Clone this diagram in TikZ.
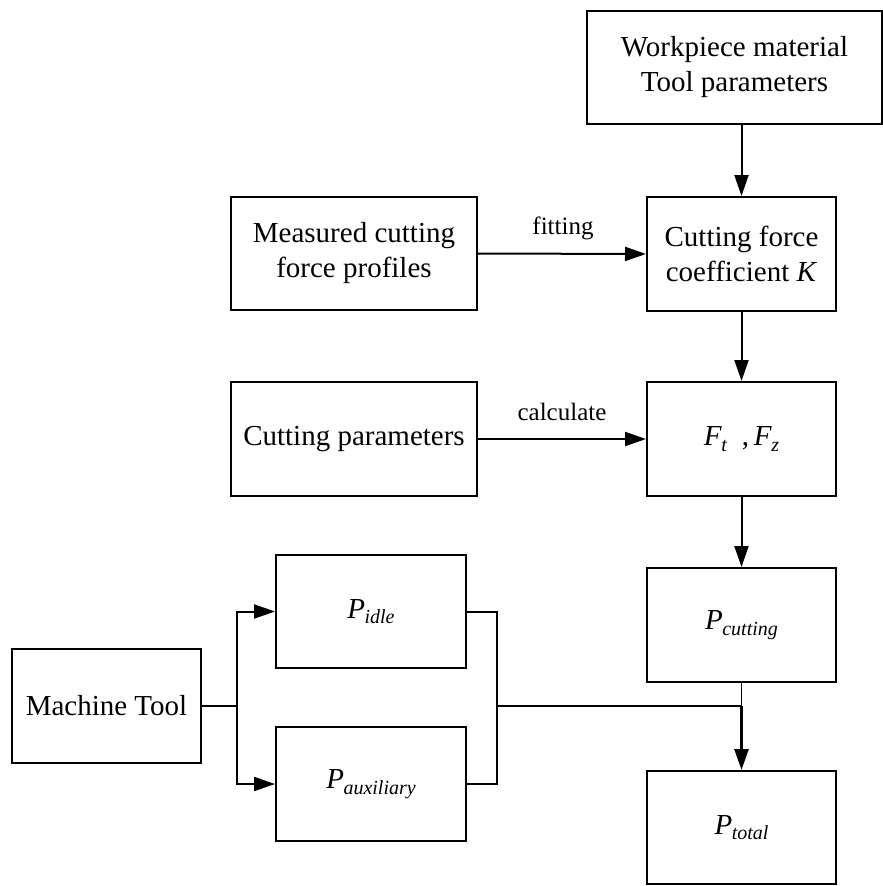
\documentclass[tikz,border=0pt]{standalone}
\usepackage{fontspec}
\setmainfont{Liberation Serif}
\usetikzlibrary{arrows.meta}
\newcommand\Psub[1]{\textit{P}\kern-0.5pt\raisebox{-0.4ex}{\fontsize{20}{20}\selectfont\textit{#1}}}
\newcommand\Fsub[1]{\textit{F}\kern-0.5pt\raisebox{-0.4ex}{\fontsize{20}{20}\selectfont\textit{#1}}}
\begin{document}
\begin{tikzpicture}[x=1pt,y=-1pt,
  blk/.style={draw,line width=2pt,rectangle,align=center,inner sep=0pt,
    font=\fontsize{29}{35}\selectfont},
  conn/.style={line width=2pt},
  arr/.style={line width=2pt,-{Triangle[length=21pt,width=14pt]}},
  lbl/.style={inner sep=0pt,font=\fontsize{25}{30}\selectfont}]
\useasboundingbox (0,0) rectangle (883,886);
\node[blk,minimum width=295pt,minimum height=113pt] (wp) at (734.5,67.5) {Workpiece material\\Tool parameters};
\node[blk,minimum width=189pt,minimum height=114pt] (coef) at (741.5,254) {Cutting force\\coefficient \textit{K}};
\node[blk,minimum width=189pt,minimum height=114pt] (ft) at (741.5,439) {\Fsub{t}\ \ ,\,\Fsub{z}};
\node[blk,minimum width=189pt,minimum height=114pt] (pcut) at (741.5,625) {\Psub{cutting}};
\node[blk,minimum width=189pt,minimum height=113pt] (ptot) at (741.5,827.5) {\Psub{total}};
\node[blk,minimum width=246pt,minimum height=113pt] (meas) at (354,253.5) {Measured cutting\\force profiles};
\node[blk,minimum width=246pt,minimum height=114pt] (cp) at (354,439) {Cutting parameters};
\node[blk,minimum width=189pt,minimum height=114pt] (mt) at (106.5,706) {Machine Tool};
\node[blk,minimum width=190pt,minimum height=113pt] (pidle) at (371,611.5) {\Psub{idle}};
\node[blk,minimum width=190pt,minimum height=114pt] (paux) at (371,784) {\Psub{auxiliary}};
\node[lbl] (fit) at (563,228) {fitting};
\node[lbl] (calc) at (562,412) {calculate};
\coordinate (split) at (237,706);
\coordinate (ja) at (497,611.5);
\coordinate (jb) at (497,784);
\coordinate (jm) at (497,706);
\coordinate (jr) at (741.5,706);
\draw[arr] (coef.north |- wp.south) -- (coef.north);
\draw[arr] (meas.east) -- (coef.west);
\draw[arr] (coef.south) -- (ft.north);
\draw[arr] (cp.east) -- (ft.west);
\draw[arr] (ft.south) -- (pcut.north);
\draw[conn] (mt.east) -- (split);
\draw[arr] (split) |- (pidle.west);
\draw[arr] (split) |- (paux.west);
\draw[conn] (pidle.east) -- (ja) -- (jb) -- (paux.east);
\draw[conn] (jm) -- (jr);
\draw[line width=1.4pt] (pcut.south) -- (jr);
\draw[line width=2.7pt,-{Triangle[length=21pt,width=14pt]}] (jr) -- (ptot.north);
\end{tikzpicture}
\end{document}
